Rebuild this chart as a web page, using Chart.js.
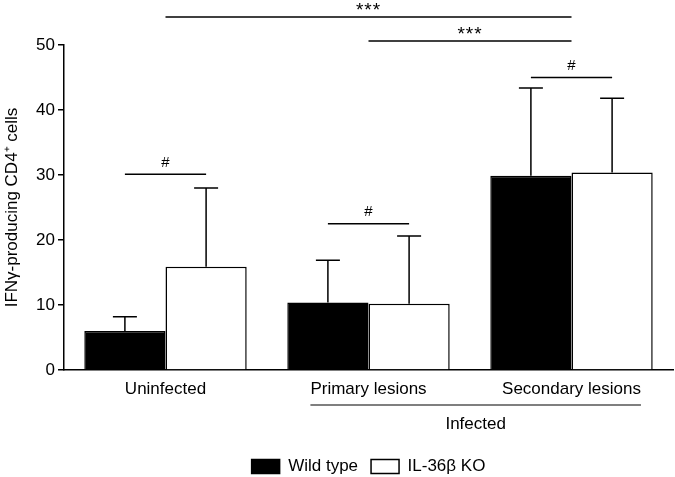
<!DOCTYPE html>
<html>
<head>
<meta charset="utf-8">
<script src="https://cdn.jsdelivr.net/npm/chart.js@4"></script>
<style>
  html, body { margin: 0; padding: 0; background: #fff; }
  #wrap { width: 675px; height: 477px; }
</style>
</head>
<body>
<div id="wrap"><canvas id="ifnChart"></canvas></div>
<script>
// ============================================
// データ
// ============================================
const categories = ["Uninfected", "Primary lesions", "Secondary lesions"];
const wildType = [6.0, 10.4, 29.9];
const wildTypeErr = [2.2, 6.5, 13.5];   // 上側SD
const ko = [15.9, 10.2, 30.4];
const koErr = [12.1, 10.4, 11.4];
const yTicks = [0, 10, 20, 30, 40, 50];

// 有意差の線（カテゴリ間：***）
const starBrackets = [
  { from: 0, to: 2, level: 54.3, label: "***" },
  { from: 1, to: 2, level: 50.6, label: "***" },
];
// 群間（WT vs KO：#）
const hashBrackets = [
  { cat: 0, level: 30.1, label: "#" },
  { cat: 1, level: 22.5, label: "#" },
  { cat: 2, level: 45.0, label: "#" },
];

const FONT = "'Liberation Sans', Arial, Helvetica, sans-serif";

// ============================================
// エラーバー・有意差線・Infectedの括弧を描くプラグイン
// ============================================
const annotatePlugin = {
  id: "annotate",
  afterDatasetsDraw(chart) {
    const ctx = chart.ctx;
    const x = chart.scales.x;
    const y = chart.scales.y;
    const metaWT = chart.getDatasetMeta(0);
    const metaKO = chart.getDatasetMeta(1);
    ctx.save();
    ctx.strokeStyle = "#000";
    ctx.fillStyle = "#000";
    ctx.lineWidth = 1.5;

    // エラーバー（上側のみ）
    [[metaWT, wildType, wildTypeErr], [metaKO, ko, koErr]].forEach(([meta, vals, errs]) => {
      meta.data.forEach((bar, i) => {
        const top = y.getPixelForValue(vals[i]);
        const end = y.getPixelForValue(vals[i] + errs[i]);
        ctx.beginPath();
        ctx.moveTo(bar.x, top);
        ctx.lineTo(bar.x, end);
        ctx.moveTo(bar.x - 12, end);
        ctx.lineTo(bar.x + 12, end);
        ctx.stroke();
      });
    });

    ctx.textAlign = "center";
    ctx.textBaseline = "bottom";

    // *** 線
    ctx.font = "19px " + FONT;
    ctx.letterSpacing = "1px";
    starBrackets.forEach((b) => {
      const py = y.getPixelForValue(b.level);
      const x1 = x.getPixelForValue(b.from);
      const x2 = x.getPixelForValue(b.to);
      ctx.beginPath();
      ctx.moveTo(x1, py);
      ctx.lineTo(x2, py);
      ctx.stroke();
      ctx.fillText(b.label, (x1 + x2) / 2, py + 3);
    });
    ctx.letterSpacing = "0px";

    // # 線
    ctx.font = "15px " + FONT;
    hashBrackets.forEach((b) => {
      const py = y.getPixelForValue(b.level);
      const x1 = metaWT.data[b.cat].x;
      const x2 = metaKO.data[b.cat].x;
      ctx.beginPath();
      ctx.moveTo(x1, py);
      ctx.lineTo(x2, py);
      ctx.stroke();
      ctx.fillText(b.label, (x1 + x2) / 2, py - 4);
    });

    // Infected の括弧（Primary / Secondary のラベル幅に合わせる）
    ctx.font = "17px " + FONT;
    const w1 = ctx.measureText(categories[1]).width;
    const w2 = ctx.measureText(categories[2]).width;
    const left = x.getPixelForValue(1) - w1 / 2;
    const right = x.getPixelForValue(2) + w2 / 2;
    const by = x.top + 35;
    ctx.lineWidth = 1.2;
    ctx.beginPath();
    ctx.moveTo(left, by);
    ctx.lineTo(right, by);
    ctx.stroke();
    ctx.textBaseline = "middle";
    ctx.fillText("Infected", (left + right) / 2, by + 19);

    ctx.restore();
  },
};

// ============================================
// グラフ本体
// ============================================
Chart.defaults.font.family = FONT;
Chart.defaults.color = "#000";

new Chart(document.getElementById("ifnChart"), {
  type: "bar",
  data: {
    labels: categories,
    datasets: [
      {
        label: "Wild type",
        data: wildType,
        backgroundColor: "#000",
        borderColor: "#000",
        borderWidth: 1.5,
      },
      {
        label: "IL-36β KO",
        data: ko,
        backgroundColor: "#fff",
        borderColor: "#000",
        borderWidth: 1.5,
      },
    ],
  },
  options: {
    responsive: true,
    maintainAspectRatio: false,
    animation: false,
    layout: { padding: { top: 45, right: 2, bottom: -8, left: 0 } },
    datasets: { bar: { categoryPercentage: 0.8, barPercentage: 1.0 } },
    plugins: {
      tooltip: { enabled: false },
      legend: {
        position: "bottom",
        fullSize: false, // 凡例をプロット領域の幅で中央寄せ
        labels: {
          boxWidth: 28,
          boxHeight: 14,
          padding: 13,
          color: "#000",
          font: { size: 17, lineHeight: 1 },
        },
      },
    },
    scales: {
      x: {
        grid: { display: false, drawTicks: false },
        border: { color: "#000", width: 1.5 },
        ticks: { font: { size: 17 }, padding: 9, color: "#000" },
        afterFit(scale) { scale.height = 75; },
      },
      y: {
        min: 0,
        max: 50,
        afterBuildTicks(scale) { scale.ticks = yTicks.map((v) => ({ value: v })); },
        afterFit(scale) { scale.width = 64; },
        grid: { drawOnChartArea: false, drawTicks: true, tickLength: 6, color: "#000", lineWidth: 1.5 },
        border: { color: "#000", width: 1.5 },
        ticks: { font: { size: 17 }, padding: 3, color: "#000" },
        title: {
          display: true,
          text: "IFNγ-producing CD4⁺ cells",
          font: { size: 17 },
          color: "#000",
          padding: { top: 2, bottom: 0 },
        },
      },
    },
  },
  plugins: [annotatePlugin],
});
</script>
</body>
</html>
